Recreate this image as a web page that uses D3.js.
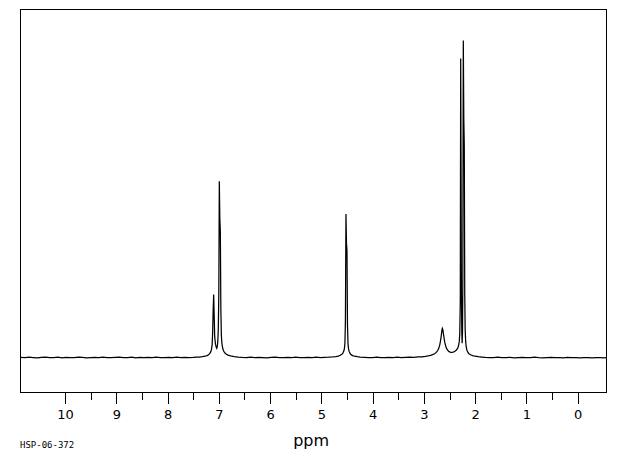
<!DOCTYPE html>
<html><head><meta charset="utf-8">
<script src="https://cdn.jsdelivr.net/npm/d3@7"></script>
<style>body{margin:0;background:#fff}svg{display:block}</style>
</head><body>
<svg id="chart" width="620" height="455"></svg>
<script>
// ---- data ----
const tickLabels = [10, 9, 8, 7, 6, 5, 4, 3, 2, 1, 0];
const minorTicks = [9.5, 8.5, 7.5, 6.5, 5.5, 4.5, 3.5, 2.5, 1.5, 0.5];
const axisTitle = "ppm";
const sampleId = "HSP-06-372";

// spectrum trace: [chemical shift (ppm), relative intensity]
const baselineLeft = [
  [10.86,0.05],[10.78,-0.05],[10.70,0.1],[10.62,0.0],[10.54,-0.1],[10.46,0.05],[10.38,0.15],[10.30,-0.05],
  [10.22,0.0],[10.14,0.1],[10.06,-0.1],[9.98,0.05],[9.90,0.0],[9.82,-0.05],[9.74,0.1],[9.66,0.05],
  [9.58,-0.1],[9.50,0.0],[9.42,0.05],[9.34,-0.05],[9.26,0.1],[9.18,0.0],[9.10,-0.05],[9.02,0.05],
  [8.94,0.15],[8.86,-0.05],[8.78,0.0],[8.70,0.1],[8.62,-0.1],[8.54,0.05],[8.46,0.0],[8.38,0.05],
  [8.30,-0.05],[8.22,0.1],[8.14,0.0],[8.06,-0.05],[7.98,0.05],[7.90,0.0],[7.82,0.1],[7.74,-0.05],
  [7.66,0.05],[7.58,0.0],[7.50,0.05]
];
const aromaticPeaks = [
  [7.44,0.15],[7.38,0.15],[7.32,0.25],[7.27,0.4],[7.23,0.6],[7.20,0.85],[7.18,1.2],[7.16,1.7],
  [7.145,2.4],[7.13,4.0],[7.12,8.0],[7.11,15],[7.10,19.9],[7.09,13],[7.08,6.5],[7.065,4.2],
  [7.05,3.2],[7.04,2.9],[7.03,3.4],[7.02,5.0],[7.01,9],[7.00,20],[6.99,55.6],[6.98,44],
  [6.97,39.5],[6.96,15],[6.95,7],[6.94,4.5],[6.925,3.0],[6.91,2.2],[6.89,1.6],[6.86,1.1],
  [6.82,0.75],[6.77,0.5],[6.70,0.3],[6.62,0.15],[6.54,0.05]
];
const baselineMid = [
  [6.46,0.0],[6.38,0.1],[6.30,-0.05],[6.22,0.05],[6.14,0.0],[6.06,-0.1],[5.98,0.05],[5.90,0.1],
  [5.82,-0.05],[5.74,0.0],[5.66,0.05],[5.58,-0.05],[5.50,0.1],[5.42,0.0],[5.34,-0.05],[5.26,0.05],
  [5.18,0.0],[5.10,0.1],[5.02,-0.05],[4.94,0.05],[4.86,0.1]
];
const methylenePeak = [
  [4.78,0.2],[4.72,0.3],[4.67,0.45],[4.63,0.7],[4.60,1.0],[4.58,1.4],[4.56,2.1],[4.55,2.9],
  [4.54,4.5],[4.53,12],[4.52,45.3],[4.51,36],[4.50,33.8],[4.49,10],[4.48,4.5],[4.47,2.8],
  [4.46,2.0],[4.44,1.3],[4.42,0.9],[4.39,0.6],[4.35,0.4],[4.30,0.25],[4.24,0.15]
];
const baselineRightMid = [
  [4.16,0.05],[4.08,-0.05],[4.00,0.0],[3.92,0.1],[3.84,0.0],[3.76,-0.05],[3.68,0.05],[3.60,0.0],
  [3.52,0.1],[3.44,-0.05],[3.36,0.05],[3.28,0.1],[3.20,0.05],[3.12,0.2],[3.04,0.2]
];
const methylPeaks = [
  [2.97,0.35],[2.92,0.5],[2.87,0.7],[2.83,0.9],[2.79,1.2],[2.76,1.6],[2.73,2.2],[2.71,2.9],
  [2.69,4.0],[2.675,5.3],[2.66,7.0],[2.65,8.4],[2.64,9.2],[2.63,8.8],[2.62,7.6],[2.605,6.0],
  [2.59,4.6],[2.57,3.4],[2.55,2.6],[2.52,2.0],[2.49,1.7],[2.46,1.6],[2.43,1.7],[2.40,1.9],
  [2.37,2.3],[2.345,2.8],[2.325,3.6],[2.31,5.0],[2.30,7.5],[2.29,18],[2.282,94.3],[2.275,60],
  [2.268,20],[2.26,8],[2.254,4.5],[2.247,8],[2.24,25],[2.231,100],[2.221,75],[2.212,66.9],
  [2.203,20],[2.195,9],[2.185,5],[2.175,3.4],[2.16,2.3],[2.14,1.6],[2.12,1.2],[2.09,0.85],
  [2.05,0.6],[2.00,0.4],[1.94,0.25],[1.87,0.15]
];
const baselineRight = [
  [1.80,0.05],[1.72,0.0],[1.64,-0.05],[1.56,0.1],[1.48,-0.05],[1.40,0.0],[1.32,0.05],[1.24,-0.1],
  [1.16,0.0],[1.08,0.05],[1.00,-0.05],[0.92,0.0],[0.84,0.1],[0.76,-0.05],[0.68,-0.1],[0.60,0.0],
  [0.52,0.05],[0.44,-0.05],[0.36,0.0],[0.28,-0.1],[0.20,0.05],[0.12,-0.05],[0.04,0.0],[-0.04,-0.1],
  [-0.12,-0.05],[-0.20,0.0],[-0.28,-0.1],[-0.36,-0.05],[-0.44,0.0],[-0.52,-0.1],[-0.56,-0.05]
];
const trace = [].concat(baselineLeft, aromaticPeaks, baselineMid, methylenePeak,
                        baselineRightMid, methylPeaks, baselineRight);

// ---- chart ----
const svg = d3.select("#chart");
const frameLeft = 20.5, frameRight = 606.5, frameTop = 9.5, frameBottom = 392.5;

const x = d3.scaleLinear().domain([10.868, -0.562]).range([frameLeft, frameRight]);
const y = d3.scaleLinear().domain([-11.04, 109.78]).range([frameBottom, frameTop]);

// frame
svg.append("rect")
  .attr("x", frameLeft).attr("y", frameTop)
  .attr("width", frameRight - frameLeft).attr("height", frameBottom - frameTop)
  .attr("fill", "none").attr("stroke", "#000").attr("stroke-width", 1)
  .attr("shape-rendering", "crispEdges");

// spectrum
const line = d3.line().x(d => x(d[0])).y(d => y(d[1]));
svg.append("path")
  .datum(trace)
  .attr("d", line)
  .attr("fill", "none")
  .attr("stroke", "#000")
  .attr("stroke-width", 1.25)
  .attr("stroke-linejoin", "miter");

// minor ticks
const minorAxis = d3.axisBottom(x).tickValues(minorTicks).tickSize(7).tickFormat("");
svg.append("g").attr("transform", `translate(0,${frameBottom})`).call(minorAxis)
  .call(g => g.select(".domain").remove())
  .call(g => g.selectAll("line").attr("shape-rendering", "crispEdges"));

// major ticks
const majorAxis = d3.axisBottom(x).tickValues(tickLabels).tickSize(11).tickPadding(6).tickFormat(d3.format("d"));
svg.append("g").attr("transform", `translate(0,${frameBottom})`).call(majorAxis)
  .call(g => g.select(".domain").remove())
  .call(g => g.selectAll("line").attr("shape-rendering", "crispEdges"))
  .call(g => g.selectAll("text")
    .attr("font-family", "DejaVu Sans, sans-serif")
    .attr("font-size", 13)
    .attr("fill", "#000"));

// axis title
svg.append("text")
  .attr("x", x(5.2)).attr("y", 446)
  .attr("text-anchor", "middle")
  .attr("font-family", "DejaVu Sans, sans-serif")
  .attr("font-size", 16)
  .attr("fill", "#000")
  .text(axisTitle);

// sample id
svg.append("text")
  .attr("x", 20).attr("y", 448)
  .attr("font-family", "DejaVu Sans Mono, monospace")
  .attr("font-size", 9)
  .attr("fill", "#000")
  .text(sampleId);
</script>
</body></html>
